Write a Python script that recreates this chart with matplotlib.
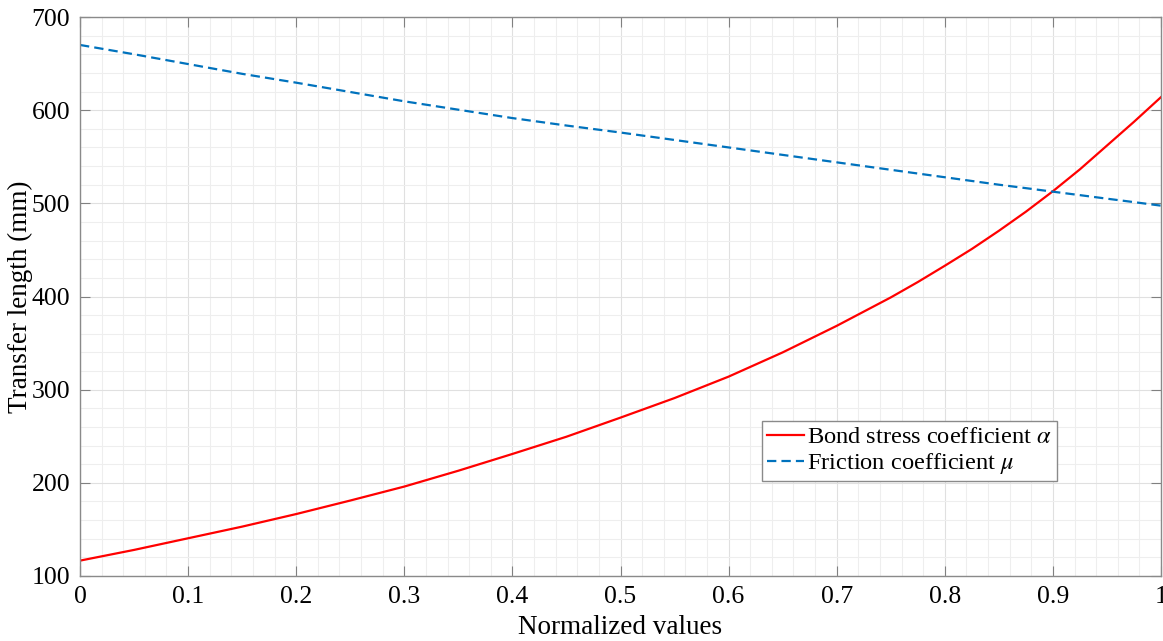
import matplotlib
matplotlib.use("Agg")
import matplotlib.pyplot as plt
from matplotlib.ticker import MultipleLocator, FuncFormatter

plt.rcParams["font.family"] = ["Liberation Serif", "DejaVu Serif"]
plt.rcParams["mathtext.fontset"] = "stix"

# Normalized parameter values
x_norm = [0.00, 0.05, 0.10, 0.15, 0.20, 0.25, 0.30, 0.35, 0.40, 0.45, 0.50,
          0.55, 0.60, 0.65, 0.70, 0.75, 0.775, 0.80, 0.825, 0.85, 0.875,
          0.90, 0.925, 0.95, 0.975, 1.00]

# Transfer length (mm) when varying the bond stress coefficient
bond_stress = [116.5, 128, 140.5, 153, 166.5, 181, 196, 213, 231, 249.5, 270,
               291, 314, 340, 368.5, 399, 415.5, 433, 451, 470.5, 491,
               513, 536.5, 562, 587.5, 614]

# Transfer length (mm) when varying the friction coefficient
friction = [670, 660, 649.5, 639, 629.5, 619.5, 609.5, 600.5, 591.5, 583.5, 576,
            568, 560, 552, 544, 536, 532, 528, 524, 520, 516.3,
            512.5, 508.8, 505, 501.3, 497.5]

x_ticks = [0, 0.1, 0.2, 0.3, 0.4, 0.5, 0.6, 0.7, 0.8, 0.9, 1]
y_ticks = [100, 200, 300, 400, 500, 600, 700]

fig = plt.figure(figsize=(11.63, 6.41), dpi=100)
ax = fig.add_axes([80 / 1163, 1 - 576 / 641, 1081 / 1163, 559 / 641])

ax.plot(x_norm, bond_stress, color="#ff0000", lw=1.6, solid_joinstyle="round",
        label=r"Bond stress coefficient $\alpha$")
ax.plot(x_norm, friction, color="#0072BD", lw=1.6, ls=(0, (4.2, 2.3)),
        label=r"Friction coefficient $\mu$")

ax.set_xlim(0, 1)
ax.set_ylim(100, 700)
ax.set_xticks(x_ticks)
ax.set_yticks(y_ticks)
ax.xaxis.set_minor_locator(MultipleLocator(0.02))
ax.yaxis.set_minor_locator(MultipleLocator(20))
ax.xaxis.set_major_formatter(FuncFormatter(lambda v, p: f"{v:g}"))

ax.grid(which="major", color="#e0e0e0", lw=0.8)
ax.grid(which="minor", color="#eeeeee", lw=0.8)
ax.set_axisbelow(True)

ax.tick_params(which="major", direction="in", length=7, width=0.8,
               color="#808080", top=True, right=True, labelsize=18.5, pad=7)
ax.tick_params(which="minor", length=0, top=True, right=True)
for sp in ax.spines.values():
    sp.set_color("#8a8a8a")
    sp.set_linewidth(1.0)

ax.set_xlabel("Normalized values", fontsize=19.5, labelpad=5)
ax.set_ylabel("Transfer length (mm)", fontsize=19.5, labelpad=-1)

leg = ax.legend(loc="lower left", bbox_to_anchor=(0.631, 0.170), borderaxespad=0,
                fontsize=17.6, handlelength=1.5, handletextpad=0.15, borderpad=0.2,
                labelspacing=0.12, fancybox=False, framealpha=1, edgecolor="#8a8a8a")
leg.get_frame().set_linewidth(1.0)

fig.savefig("out.png", dpi=100)
